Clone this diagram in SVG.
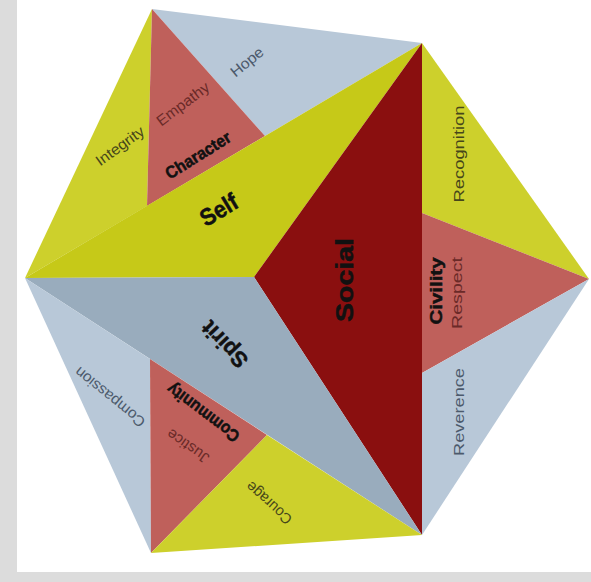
<svg xmlns="http://www.w3.org/2000/svg" width="591" height="582" viewBox="0 0 591 582">
<style>
.yel{fill:#c6c918}
.yel2{fill:#cdd02c}
.red{fill:#bf605b}
.blu{fill:#b8c8d8}
.spi{fill:#99acbd}
.soc{fill:#8a0f0f}
text{font-family:"Liberation Sans Narrow","Liberation Sans",Arial,sans-serif;text-anchor:middle}
.lbl{font-size:15px}
.big{font-weight:bold;fill:#111;stroke:#111;stroke-width:0.5}
.cb{fill:#4c5a6c}
.cr{fill:#6a2a28}
.cy{fill:#46461a}
</style>
<rect x="0" y="0" width="591" height="582" fill="#dcdcdc"/>
<rect x="17" y="0" width="574" height="572" fill="#ffffff"/>

<g id="hope"><polygon class="blu" points="152,9 422,43 265,136"/>
<text class="lbl cb" transform="translate(247,62) rotate(-39)" dy="5" textLength="38" lengthAdjust="spacingAndGlyphs">Hope</text></g>
<g id="integrity"><polygon class="yel2" points="152,9 25,278 147,206"/>
<text class="lbl cy" transform="translate(120,146) rotate(-36)" dy="5" textLength="56" lengthAdjust="spacingAndGlyphs">Integrity</text></g>
<g id="character"><polygon class="red" points="152,9 147,206 265,136"/>
<text class="lbl cr" transform="translate(183,104) rotate(-37)" dy="5" textLength="62" lengthAdjust="spacingAndGlyphs">Empathy</text>
<text class="big" font-size="17" transform="translate(198,155) rotate(-32)" dy="6" textLength="74" lengthAdjust="spacingAndGlyphs">Character</text></g>
<g id="self"><polygon class="yel" points="25,278 422,43 254,277"/>
<text class="big" font-size="24" transform="translate(219,210) rotate(-31)" dy="8" textLength="40" lengthAdjust="spacingAndGlyphs">Self</text></g>

<g id="social"><polygon class="soc" points="422,43 422,535 254,277"/>
<text class="big" font-size="23" transform="translate(345,280) rotate(-90)" dy="8" textLength="84" lengthAdjust="spacingAndGlyphs">Social</text></g>
<g id="recognition"><polygon class="yel2" points="422,43 589,279 422,213"/>
<text class="lbl cy" font-size="16" transform="translate(459,154) rotate(-90)" dy="5" textLength="97" lengthAdjust="spacingAndGlyphs">Recognition</text></g>
<g id="civility"><polygon class="red" points="422,213 589,279 422,373"/>
<text class="big" font-size="17" transform="translate(436,291) rotate(-90)" dy="6" textLength="67" lengthAdjust="spacingAndGlyphs">Civility</text>
<text class="lbl cr" font-size="16" transform="translate(457,293) rotate(-90)" dy="5" textLength="72" lengthAdjust="spacingAndGlyphs">Respect</text></g>
<g id="reverence"><polygon class="blu" points="422,373 589,279 422,535"/>
<text class="lbl cb" font-size="16" transform="translate(459,412) rotate(-90)" dy="5" textLength="88" lengthAdjust="spacingAndGlyphs">Reverence</text></g>

<g id="spirit"><polygon class="spi" points="25,278 254,277 422,535"/>
<text class="big" font-size="22" transform="translate(225,344) rotate(-134)" dy="7" textLength="56" lengthAdjust="spacingAndGlyphs">Spirit</text></g>
<g id="compassion"><polygon class="blu" points="25,278 151,553 150,359"/>
<text class="lbl cb" transform="translate(110,397) rotate(-141)" dy="5" textLength="86" lengthAdjust="spacingAndGlyphs">Compassion</text></g>
<g id="community"><polygon class="red" points="150,359 151,553 267,435"/>
<text class="big" font-size="17" transform="translate(203,413) rotate(-143)" dy="6" textLength="86" lengthAdjust="spacingAndGlyphs">Community</text>
<text class="lbl cr" transform="translate(188,446) rotate(-145)" dy="5" textLength="48" lengthAdjust="spacingAndGlyphs">Justice</text></g>
<g id="courage"><polygon class="yel2" points="267,435 151,553 422,535"/>
<text class="lbl cy" transform="translate(269,503) rotate(-138)" dy="5" textLength="56" lengthAdjust="spacingAndGlyphs">Courage</text></g>
</svg>
